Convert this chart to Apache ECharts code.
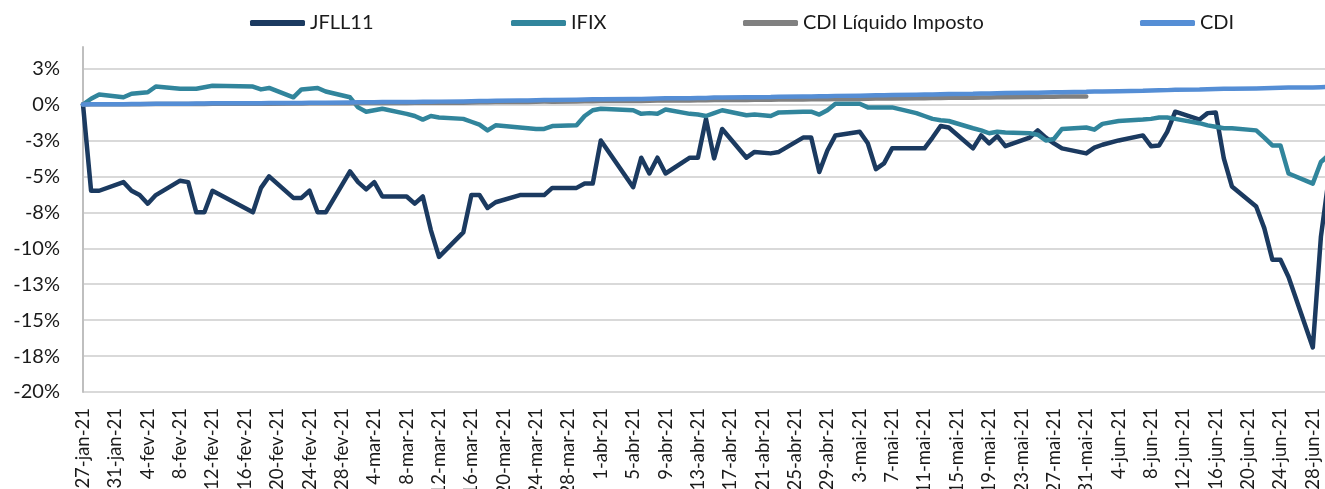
<!DOCTYPE html>
<html>
<head>
<meta charset="utf-8">
<script src="https://cdn.jsdelivr.net/npm/echarts@6/dist/echarts.min.js"></script>
<style>
    html, body { margin: 0; padding: 0; background: #fff; }
    #chart { width: 1325px; height: 489px; }
</style>
</head>
<body>
<div id="chart"></div>
<script>
// dias úteis com cotação
var dates = [
    '2021-01-27', '2021-01-28', '2021-01-29',
    '2021-02-01', '2021-02-02', '2021-02-03', '2021-02-04', '2021-02-05',
    '2021-02-08', '2021-02-09', '2021-02-10', '2021-02-11', '2021-02-12',
    '2021-02-17', '2021-02-18', '2021-02-19',
    '2021-02-22', '2021-02-23', '2021-02-24', '2021-02-25', '2021-02-26',
    '2021-03-01', '2021-03-02', '2021-03-03', '2021-03-04', '2021-03-05',
    '2021-03-08', '2021-03-09', '2021-03-10', '2021-03-11', '2021-03-12',
    '2021-03-15', '2021-03-16', '2021-03-17', '2021-03-18', '2021-03-19',
    '2021-03-22', '2021-03-23', '2021-03-24', '2021-03-25', '2021-03-26',
    '2021-03-29', '2021-03-30', '2021-03-31',
    '2021-04-01',
    '2021-04-05', '2021-04-06', '2021-04-07', '2021-04-08', '2021-04-09',
    '2021-04-12', '2021-04-13', '2021-04-14', '2021-04-15', '2021-04-16',
    '2021-04-19', '2021-04-20', '2021-04-22', '2021-04-23',
    '2021-04-26', '2021-04-27', '2021-04-28', '2021-04-29', '2021-04-30',
    '2021-05-03', '2021-05-04', '2021-05-05', '2021-05-06', '2021-05-07',
    '2021-05-10', '2021-05-11', '2021-05-12', '2021-05-13', '2021-05-14',
    '2021-05-17', '2021-05-18', '2021-05-19', '2021-05-20', '2021-05-21',
    '2021-05-24', '2021-05-25', '2021-05-26', '2021-05-27', '2021-05-28',
    '2021-05-31',
    '2021-06-01', '2021-06-02', '2021-06-04',
    '2021-06-07', '2021-06-08', '2021-06-09', '2021-06-10', '2021-06-11',
    '2021-06-14', '2021-06-15', '2021-06-16', '2021-06-17', '2021-06-18',
    '2021-06-21', '2021-06-22', '2021-06-23', '2021-06-24', '2021-06-25',
    '2021-06-28', '2021-06-29', '2021-06-30'
];

var jfll11 = [
    0, -6.0, -6.0,
    -5.4, -6.0, -6.3, -6.9, -6.3,
    -5.3, -5.4, -7.5, -7.5, -6.0,
    -7.5, -5.8, -5.0,
    -6.5, -6.5, -6.0, -7.5, -7.5,
    -4.65, -5.4, -5.9, -5.4, -6.4,
    -6.4, -6.9, -6.4, -8.75, -10.6,
    -8.9, -6.3, -6.3, -7.2, -6.8,
    -6.3, -6.3, -6.3, -6.3, -5.8,
    -5.8, -5.5, -5.5,
    -2.5,
    -5.75, -3.7, -4.8, -3.7, -4.8,
    -3.7, -3.7, -1.0, -3.75, -1.7,
    -3.7, -3.3, -3.4, -3.3,
    -2.3, -2.3, -4.7, -3.2, -2.15,
    -1.9, -2.7, -4.5, -4.1, -3.05,
    -3.05, -3.05, -2.3, -1.5, -1.6,
    -3.05, -2.15, -2.7, -2.2, -2.9,
    -2.3, -1.8, -2.3, -2.7, -3.05,
    -3.4,
    -3.0, -2.8, -2.5,
    -2.15, -2.9, -2.85, -1.9, -0.5,
    -1.05, -0.6, -0.55, -3.75, -5.7,
    -7.1, -8.6, -10.8, -10.8, -12.0,
    -16.9, -9.2, -5.0
];

var ifix = [
    0, 0.4, 0.7,
    0.5, 0.75, 0.8, 0.85, 1.25,
    1.1, 1.1, 1.1, 1.2, 1.3,
    1.25, 1.05, 1.15,
    0.5, 1.05, 1.1, 1.15, 0.9,
    0.5, -0.2, -0.5, -0.4, -0.3,
    -0.65, -0.8, -1.05, -0.8, -0.9,
    -1.0, -1.2, -1.4, -1.8, -1.45,
    -1.6, -1.65, -1.7, -1.7, -1.5,
    -1.45, -0.8, -0.4,
    -0.3,
    -0.4, -0.65, -0.6, -0.65, -0.35,
    -0.65, -0.7, -0.8, -0.6, -0.4,
    -0.75, -0.7, -0.8, -0.55,
    -0.5, -0.5, -0.7, -0.4, 0.05,
    0.05, -0.2, -0.2, -0.2, -0.2,
    -0.6, -0.8, -1.0, -1.1, -1.15,
    -1.65, -1.8, -2.0, -1.9, -1.95,
    -2.0, -2.1, -2.5, -2.4, -1.7,
    -1.6,
    -1.75, -1.35, -1.15,
    -1.05, -1.0, -0.9, -0.9, -1.0,
    -1.3, -1.45, -1.55, -1.65, -1.65,
    -1.8, -2.3, -2.85, -2.85, -4.8,
    -5.5, -4.0, -3.5
];

// termina em 31-mai
var cdiLiquido = [
    0, 0.01, 0.01,
    0.01, 0.02, 0.02, 0.03, 0.03,
    0.03, 0.04, 0.04, 0.04, 0.05,
    0.06, 0.06, 0.06,
    0.07, 0.07, 0.08, 0.08, 0.08,
    0.09, 0.10, 0.10, 0.10, 0.11,
    0.11, 0.12, 0.12, 0.12, 0.13,
    0.13, 0.14, 0.15, 0.16, 0.17,
    0.17, 0.18, 0.19, 0.20, 0.20,
    0.21, 0.22, 0.23,
    0.24,
    0.24, 0.25, 0.26, 0.27, 0.28,
    0.28, 0.29, 0.29, 0.31, 0.31,
    0.32, 0.33, 0.33, 0.35,
    0.35, 0.36, 0.36, 0.37, 0.38,
    0.39, 0.40, 0.41, 0.42, 0.42,
    0.44, 0.44, 0.45, 0.46, 0.47,
    0.47, 0.49, 0.49, 0.50, 0.51,
    0.52, 0.52, 0.54, 0.54, 0.55,
    0.56
];

var cdi = [
    0, 0.01, 0.01,
    0.02, 0.03, 0.03, 0.04, 0.05,
    0.05, 0.06, 0.07, 0.07, 0.08,
    0.09, 0.09, 0.10,
    0.11, 0.11, 0.12, 0.13, 0.13,
    0.14, 0.15, 0.15, 0.16, 0.17,
    0.17, 0.18, 0.19, 0.19, 0.20,
    0.21, 0.22, 0.24, 0.25, 0.26,
    0.27, 0.28, 0.30, 0.31, 0.32,
    0.33, 0.34, 0.36,
    0.37,
    0.38, 0.39, 0.40, 0.42, 0.43,
    0.44, 0.45, 0.46, 0.48, 0.49,
    0.50, 0.51, 0.52, 0.54,
    0.55, 0.56, 0.57, 0.58, 0.60,
    0.61, 0.62, 0.64, 0.65, 0.66,
    0.68, 0.69, 0.70, 0.72, 0.73,
    0.74, 0.76, 0.77, 0.78, 0.80,
    0.81, 0.82, 0.84, 0.85, 0.86,
    0.88,
    0.90, 0.91, 0.93,
    0.95, 0.97, 0.99, 1.00, 1.02,
    1.04, 1.06, 1.07, 1.09, 1.10,
    1.12, 1.13, 1.15, 1.16, 1.18,
    1.19, 1.20, 1.22
];

var monthNames = ['jan', 'fev', 'mar', 'abr', 'mai', 'jun'];

var FONT = 'Lato, "Open Sans", sans-serif';
var TEXT = '#1a1a1a';

// eixo de datas: todos os dias corridos (como no Excel)
var calendar = [];
for (var t = Date.UTC(2021, 0, 27); t <= Date.UTC(2021, 5, 30); t += 86400000) {
    calendar.push(new Date(t).toISOString().slice(0, 10));
}

function byDay(values) {
    var map = {};
    for (var i = 0; i < values.length; i++) {
        map[dates[i]] = values[i];
    }
    return calendar.map(function (day) {
        return day in map ? map[day] : null;
    });
}

function dayLabel(day) {
    var p = day.split('-');
    return parseInt(p[2], 10) + '-' + monthNames[parseInt(p[1], 10) - 1] + '-' + p[0].slice(2);
}

function pctLabel(v) {
    var r = Math.round(Math.abs(v));
    return (v < 0 && r !== 0 ? '-' : '') + r + '%';
}

function lineSeries(name, values, color) {
    return {
        name: name,
        type: 'line',
        data: byDay(values),
        connectNulls: true,
        symbol: 'none',
        showSymbol: false,
        itemStyle: {color: color},
        lineStyle: {width: 4.5, color: color, cap: 'round', join: 'round'}
    };
}

function legendItem(name, left) {
    return {
        data: [name],
        left: left,
        top: 13,
        padding: 0,
        icon: 'roundRect',
        itemWidth: 55,
        itemHeight: 6,
        selectedMode: false,
        textStyle: {fontFamily: FONT, fontSize: 20, color: TEXT}
    };
}

var chart = echarts.init(document.getElementById('chart'));

var option = {
    animation: false,
    backgroundColor: '#fff',
    legend: [
        legendItem('JFLL11', 250),
        legendItem('IFIX', 511),
        legendItem('CDI Líquido Imposto', 743),
        legendItem('CDI', 1140)
    ],
    grid: {
        left: 83,
        right: -4,
        top: 47,
        bottom: 97,
        containLabel: false,
        outerBoundsMode: 'none'
    },
    xAxis: {
        type: 'category',
        data: calendar,
        boundaryGap: false,
        axisLine: {lineStyle: {color: '#d9d9d9', width: 2}},
        axisTick: {show: false},
        splitLine: {show: false},
        axisLabel: {
            interval: 3,
            rotate: 90,
            margin: 16,
            formatter: dayLabel,
            fontFamily: FONT,
            fontSize: 18.5,
            color: TEXT
        }
    },
    yAxis: {
        type: 'value',
        min: -20,
        max: 4,
        interval: 2.5,
        axisLine: {show: true, lineStyle: {color: '#bfbfbf', width: 2}},
        axisTick: {show: false},
        axisLabel: {
            showMaxLabel: false,
            margin: 23,
            formatter: pctLabel,
            fontFamily: FONT,
            fontSize: 20,
            color: TEXT
        },
        splitLine: {
            showMaxLine: false,
            lineStyle: {color: '#d9d9d9', width: 2}
        }
    },
    series: [
        lineSeries('JFLL11', jfll11, '#1b3a60'),
        lineSeries('IFIX', ifix, '#31859c'),
        lineSeries('CDI Líquido Imposto', cdiLiquido, '#808080'),
        lineSeries('CDI', cdi, '#558ed5')
    ]
};

chart.setOption(option);
</script>
</body>
</html>
